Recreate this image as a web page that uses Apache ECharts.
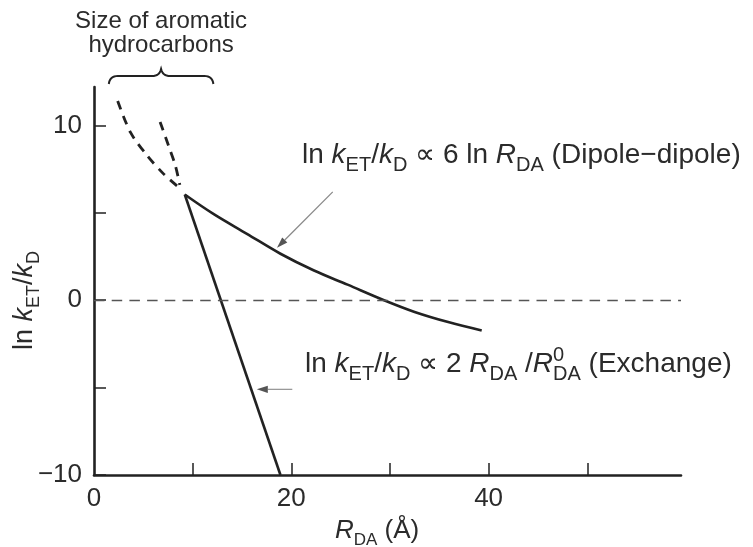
<!DOCTYPE html>
<html><head><meta charset="utf-8">
<script src="https://cdn.jsdelivr.net/npm/echarts@6/dist/echarts.min.js"></script>
<style>html,body{margin:0;padding:0;background:#fff}#c{width:753px;height:547px}</style>
</head><body><div id="c"></div>
<script>
// ---- data ----
const dipoleX = [9.2, 12.1, 15.5, 18.9, 22.3, 25.7, 29.4, 32.5, 35.9, 39.3];
const dipoleY = [6.05, 4.94, 3.80, 2.66, 1.70, 0.89, 0.0, -0.67, -1.25, -1.73];
const exchangeX = [9.2, 18.9];
const exchangeY = [6.05, -10];
const dashLeftX = [2.4, 3.7, 5.4, 7.05, 8.5];
const dashLeftY = [11.4, 9.6, 8.27, 7.23, 6.5];
const dashRightX = [6.7, 7.55, 8.25, 8.7];
const dashRightY = [10.2, 8.85, 7.7, 6.6];
const xTicks = [10, 20, 30, 40, 50];
const xTickLabels = [0, 20, 40];
const yTicks = [-10, -5, 0, 5, 10];
const yTickLabels = [-10, 0, 10];
const braceRange = [1.5, 12.1];
const dipoleArrow = [[24.2, 6.2], [18.55, 3.0]];
const exchangeArrow = [[20.1, -5.1], [16.5, -5.1]];

const zip = (a, b) => a.map((v, i) => [v, b[i]]);
const FONT = '"Liberation Sans", Arial, sans-serif';
const INK = '#222';
const TXT = '#2b2b2b';

const chart = echarts.init(document.getElementById('c'), null, {renderer: 'canvas'});
const solid = {color: INK, width: 2.6, cap: 'butt'};
const dashed = {color: INK, width: 2.8, type: [9, 7], cap: 'butt'};

chart.setOption({
  animation: false,
  backgroundColor: '#fff',
  grid: {left: 94, right: 72, top: 87, bottom: 72, containLabel: false},
  xAxis: {
    type: 'value', min: 0, max: 59.5,
    axisLine: {onZero: false, lineStyle: {color: INK, width: 2.6}},
    axisTick: {inside: true, length: 12, customValues: xTicks, lineStyle: {color: INK, width: 1.5}},
    axisLabel: {customValues: xTickLabels, margin: 11, fontSize: 26, color: TXT, fontFamily: FONT},
    splitLine: {show: false}
  },
  yAxis: {
    type: 'value', min: -10, max: 12.2,
    axisLine: {onZero: false, lineStyle: {color: INK, width: 2.6}},
    axisTick: {inside: true, length: 12, customValues: yTicks, lineStyle: {color: INK, width: 1.5}},
    axisLabel: {customValues: yTickLabels, margin: 12, fontSize: 26, color: TXT, fontFamily: FONT,
      formatter: v => String(v).replace('-', '\u2212')},
    splitLine: {show: false}
  },
  series: [
    {type: 'line', name: 'Dipole-dipole', data: zip(dipoleX, dipoleY), symbol: 'none', smooth: 0.35,
      lineStyle: solid, silent: true,
      markLine: {silent: true, symbol: 'none', label: {show: false},
        lineStyle: {color: '#555', width: 1.3, type: [10.5, 7.2]}, data: [{yAxis: 0}]}},
    {type: 'line', name: 'Exchange', data: zip(exchangeX, exchangeY), symbol: 'none', lineStyle: solid, silent: true},
    {type: 'line', name: 'ext1', data: zip(dashLeftX, dashLeftY), symbol: 'none', smooth: 0.3, lineStyle: dashed, silent: true},
    {type: 'line', name: 'ext2', data: zip(dashRightX, dashRightY), symbol: 'none', smooth: 0.3, lineStyle: dashed, silent: true}
  ]
});

// ---- annotations ----
const mctx = document.createElement('canvas').getContext('2d');
function measure(t, size, italic) {
  mctx.font = (italic ? 'italic ' : '') + size + 'px ' + FONT;
  return mctx.measureText(t).width;
}
// kinds: n normal, i italic, s subscript, p superscript (no advance)
function runs(x0, yb, list, base, subRatio) {
  const sr = subRatio || 0.65;
  let x = x0; const out = [];
  for (const [t, k] of list) {
    const small = (k === 's' || k === 'p');
    const size = small ? Math.round(base * sr) : base;
    const italic = (k === 'i');
    let b = yb;
    if (k === 's') b = yb + base * 0.25;
    if (k === 'p') b = yb - base * 0.40;
    out.push({type: 'text', x: x, y: b - size * 0.35, silent: true,
      style: {text: t, fill: TXT, font: (italic ? 'italic ' : '') + size + 'px ' + FONT,
        align: 'left', verticalAlign: 'middle'}});
    if (k !== 'p') x += measure(t, size, italic);
  }
  return out;
}
function arrow(from, to, color) {
  const a = chart.convertToPixel({gridIndex: 0}, from);
  const b = chart.convertToPixel({gridIndex: 0}, to);
  const dx = b[0] - a[0], dy = b[1] - a[1], L = Math.hypot(dx, dy);
  const ux = dx / L, uy = dy / L, hl = 11, hw = 3.6;
  const bx = b[0] - ux * hl, by = b[1] - uy * hl;
  return [
    {type: 'line', silent: true, shape: {x1: a[0], y1: a[1], x2: bx, y2: by}, style: {stroke: color, lineWidth: 1.3}},
    {type: 'polygon', silent: true, shape: {points: [[b[0], b[1]], [bx - uy * hw, by + ux * hw], [bx + uy * hw, by - ux * hw]]},
      style: {fill: '#555'}}
  ];
}
function quad(p0, c, p1, n) {
  const pts = [];
  for (let i = 0; i <= n; i++) {
    const t = i / n, u = 1 - t;
    pts.push([u * u * p0[0] + 2 * u * t * c[0] + t * t * p1[0], u * u * p0[1] + 2 * u * t * c[1] + t * t * p1[1]]);
  }
  return pts;
}

const els = [];
// brace over the size range of aromatic hydrocarbons
const bl = chart.convertToPixel({gridIndex: 0}, [braceRange[0], 12.2]);
const br = chart.convertToPixel({gridIndex: 0}, [braceRange[1], 12.2]);
const yEnd = bl[1] - 3, yBar = yEnd - 8, yTip = yEnd - 15, xm = (bl[0] + br[0]) / 2;
const x1 = bl[0], x2 = br[0];
const bracePts = [].concat(
  quad([x1, yEnd], [x1 + 1, yBar], [x1 + 9, yBar], 8),
  quad([xm - 9, yBar], [xm - 1.5, yBar], [xm, yTip], 8),
  quad([xm, yTip], [xm + 1.5, yBar], [xm + 9, yBar], 8),
  quad([x2 - 9, yBar], [x2 - 1, yBar], [x2, yEnd], 8)
);
els.push({type: 'polyline', silent: true, shape: {points: bracePts}, style: {stroke: INK, lineWidth: 2, fill: null}});
els.push({type: 'text', x: xm, y: 21, silent: true, style: {text: 'Size of aromatic', fill: TXT, font: '24px ' + FONT, align: 'center', verticalAlign: 'middle'}});
els.push({type: 'text', x: xm, y: 45, silent: true, style: {text: 'hydrocarbons', fill: TXT, font: '24px ' + FONT, align: 'center', verticalAlign: 'middle'}});

// Dipole-dipole label
els.push(...runs(302, 165, [['ln ', 'n'], ['k', 'i'], ['ET', 's'], ['/', 'n'], ['k', 'i'], ['D', 's'], [' \u221D 6 ln ', 'n'], ['R', 'i'], ['DA', 's'], [' (Dipole\u2212dipole)', 'n']], 28, 0.7));
// Exchange label
els.push(...runs(305, 374, [['ln ', 'n'], ['k', 'i'], ['ET', 's'], ['/', 'n'], ['k', 'i'], ['D', 's'], [' \u221D 2 ', 'n'], ['R', 'i'], ['DA', 's'], [' /', 'n'], ['R', 'i'], ['0', 'p'], ['DA', 's'], [' (Exchange)', 'n']], 28, 0.7));
// arrows
els.push(...arrow(dipoleArrow[0], dipoleArrow[1], '#888'));
els.push(...arrow(exchangeArrow[0], exchangeArrow[1], '#999'));
// x axis name
els.push(...runs(335, 540, [['R', 'i'], ['DA', 's'], [' (\u00C5)', 'n']], 26));
// y axis name (rotated)
els.push({type: 'group', x: 34, y: 350, rotation: Math.PI / 2,
  children: runs(0, 0, [['ln ', 'n'], ['k', 'i'], ['ET', 's'], ['/', 'n'], ['k', 'i'], ['D', 's']], 27)});

chart.setOption({graphic: {elements: els}});
</script>
</body></html>
